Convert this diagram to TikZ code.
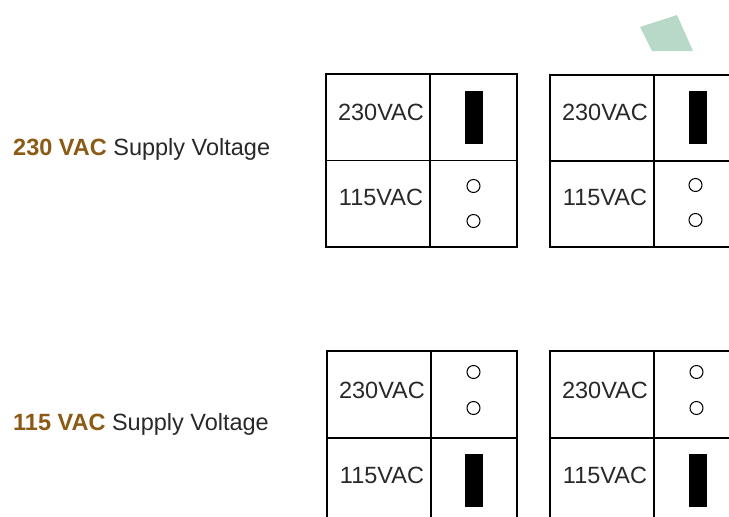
\documentclass[tikz,border=0pt]{standalone}
\usepackage{fontspec}
\setmainfont{Liberation Sans}
\usepackage{xcolor}
\usepackage{tikz}
\usetikzlibrary{positioning}

\definecolor{voltbrown}{RGB}{139,90,20}
\definecolor{labelgray}{RGB}{40,40,40}
\definecolor{tabgreen}{RGB}{184,216,200}

\begin{document}
\begin{tikzpicture}[
  x=1pt, y=-1pt,
  every node/.style={inner sep=0pt, font=\fontsize{23.5}{25}\selectfont, text=labelgray},
  cell/.style={draw, line width=1.5pt},
  pin/.style={draw, circle, minimum size=13pt, line width=1pt},
  shunt/.style={fill=black, minimum width=18pt, minimum height=53pt}
]
\useasboundingbox (0,0) rectangle (729,517);
\clip (0,0) rectangle (729,517);

% green tab in the corner
\fill[tabgreen] (640,27) -- (677,15) -- (693,51) -- (652,51) -- cycle;

% row labels
\node[anchor=west] (lbltop) at (13,149) {\textcolor{voltbrown}{\bfseries 230 VAC} Supply Voltage};
\node[anchor=west] (lblbot) at (13,424) {\textcolor{voltbrown}{\bfseries 115 VAC} Supply Voltage};

% top row: jumper on 230VAC
\draw[cell] (326,74) rectangle (517,247) (430,74) -- (430,247) (326,160.5) -- (517,160.5);
\node (ta230) at (381,112) {230VAC};
\node (ta115) at (381,197) {115VAC};
\node[shunt] (tajmp) at (473.5,117.5) {};
\node[pin] (tapin1) at (473.5,186) {};
\node[pin] (tapin2) at (473.5,221) {};

\draw[cell] (550,75) rectangle (741,247) (654,75) -- (654,247) (550,161) -- (741,161);
\node (tb230) at (605,112) {230VAC};
\node (tb115) at (605,197) {115VAC};
\node[shunt] (tbjmp) at (697.5,117.5) {};
\node[pin] (tbpin1) at (695.5,185) {};
\node[pin] (tbpin2) at (695.5,220) {};

% bottom row: jumper on 115VAC
\draw[cell] (327,351) rectangle (517,525) (431,351) -- (431,525) (327,438) -- (517,438);
\node (ba230) at (382,390) {230VAC};
\node (ba115) at (382,475) {115VAC};
\node[pin] (bapin1) at (473.5,372) {};
\node[pin] (bapin2) at (473.5,408) {};
\node[shunt] (bajmp) at (473.5,480) {};

\draw[cell] (550,351) rectangle (741,525) (654,351) -- (654,525) (550,438) -- (741,438);
\node (bb230) at (605,390) {230VAC};
\node (bb115) at (605,475) {115VAC};
\node[pin] (bbpin1) at (696.5,372) {};
\node[pin] (bbpin2) at (696.5,408) {};
\node[shunt] (bbjmp) at (697.5,480) {};
\end{tikzpicture}
\end{document}
